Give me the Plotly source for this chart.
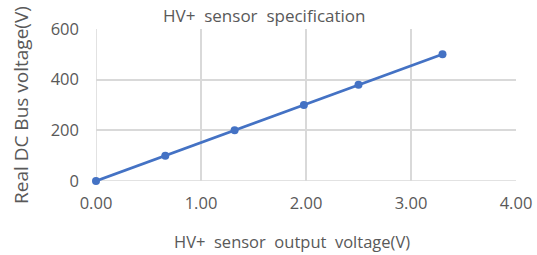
import plotly.graph_objects as go

sensor_output_v = [0.0, 0.66, 1.32, 1.98, 2.5, 3.3]
dc_bus_v = [0, 100, 200, 300, 380, 500]
x_ticks = [0, 1, 2, 3, 4]
x_tick_labels = ["0.00", "1.00", "2.00", "3.00", "4.00"]
y_ticks = [0, 200, 400, 600]

FONT = "Open Sans, Noto Sans, sans-serif"
GRID = "#d9d9d9"
TXT = "#595959"
NB = "\u00a0"

W, H = 537, 255
L, R, T, B = 96, 21, 29, 74
PW, PH = W - L - R, H - T - B

fig = go.Figure(go.Scatter(
    x=sensor_output_v, y=dc_bus_v, mode="lines+markers",
    line=dict(color="#4472C4", width=2.75),
    marker=dict(color="#4472C4", size=8),
    cliponaxis=False,
))

fig.update_layout(
    width=W, height=H,
    margin=dict(l=L, r=R, t=T, b=B, autoexpand=False),
    paper_bgcolor="white", plot_bgcolor="white",
    showlegend=False,
    font=dict(family=FONT, color=TXT, size=16),
    xaxis=dict(range=[0, 4], tickvals=x_ticks, ticktext=x_tick_labels,
               showgrid=True, gridcolor=GRID, gridwidth=1.5,
               zeroline=False, showline=False, ticks="", automargin=False,
               tickfont=dict(size=16.5, color=TXT), ticklabelstandoff=10),
    yaxis=dict(range=[0, 600], tickvals=y_ticks,
               showgrid=True, gridcolor=GRID, gridwidth=1.5,
               zeroline=False, showline=False, ticks="", automargin=False,
               tickfont=dict(size=16.5, color=TXT), ticklabelstandoff=16),
)
fig.add_shape(type="line", xref="x", yref="y", x0=0, x1=0, y0=0, y1=600,
              line=dict(color=GRID, width=1.5), layer="below")
fig.add_shape(type="line", xref="x", yref="y", x0=0, x1=4, y0=0, y1=0,
              line=dict(color=GRID, width=1.5), layer="below")

fig.add_annotation(text=f"HV+{NB}{NB}sensor{NB}{NB}specification", xref="paper", yref="paper",
                   x=(264 - L) / PW, y=1 + (T - 15) / PH,
                   xanchor="center", yanchor="middle", showarrow=False,
                   font=dict(size=17, color=TXT))
fig.add_annotation(text=f"HV+{NB}{NB}sensor{NB}{NB}output{NB}{NB}voltage(V)", xref="paper", yref="paper",
                   x=(292 - L) / PW, y=-(241 - (H - B)) / PH,
                   xanchor="center", yanchor="middle", showarrow=False,
                   font=dict(size=16.5, color=TXT))
fig.add_annotation(text="Real DC Bus voltage(V)", xref="paper", yref="paper",
                   x=-(L - 21) / PW, y=((H - B) - 105) / PH,
                   xanchor="center", yanchor="middle", showarrow=False, textangle=-90,
                   font=dict(size=19, color=TXT))

fig.write_html("out.html", config={"displayModeBar": False},
               post_script="document.body.style.margin='0';")
